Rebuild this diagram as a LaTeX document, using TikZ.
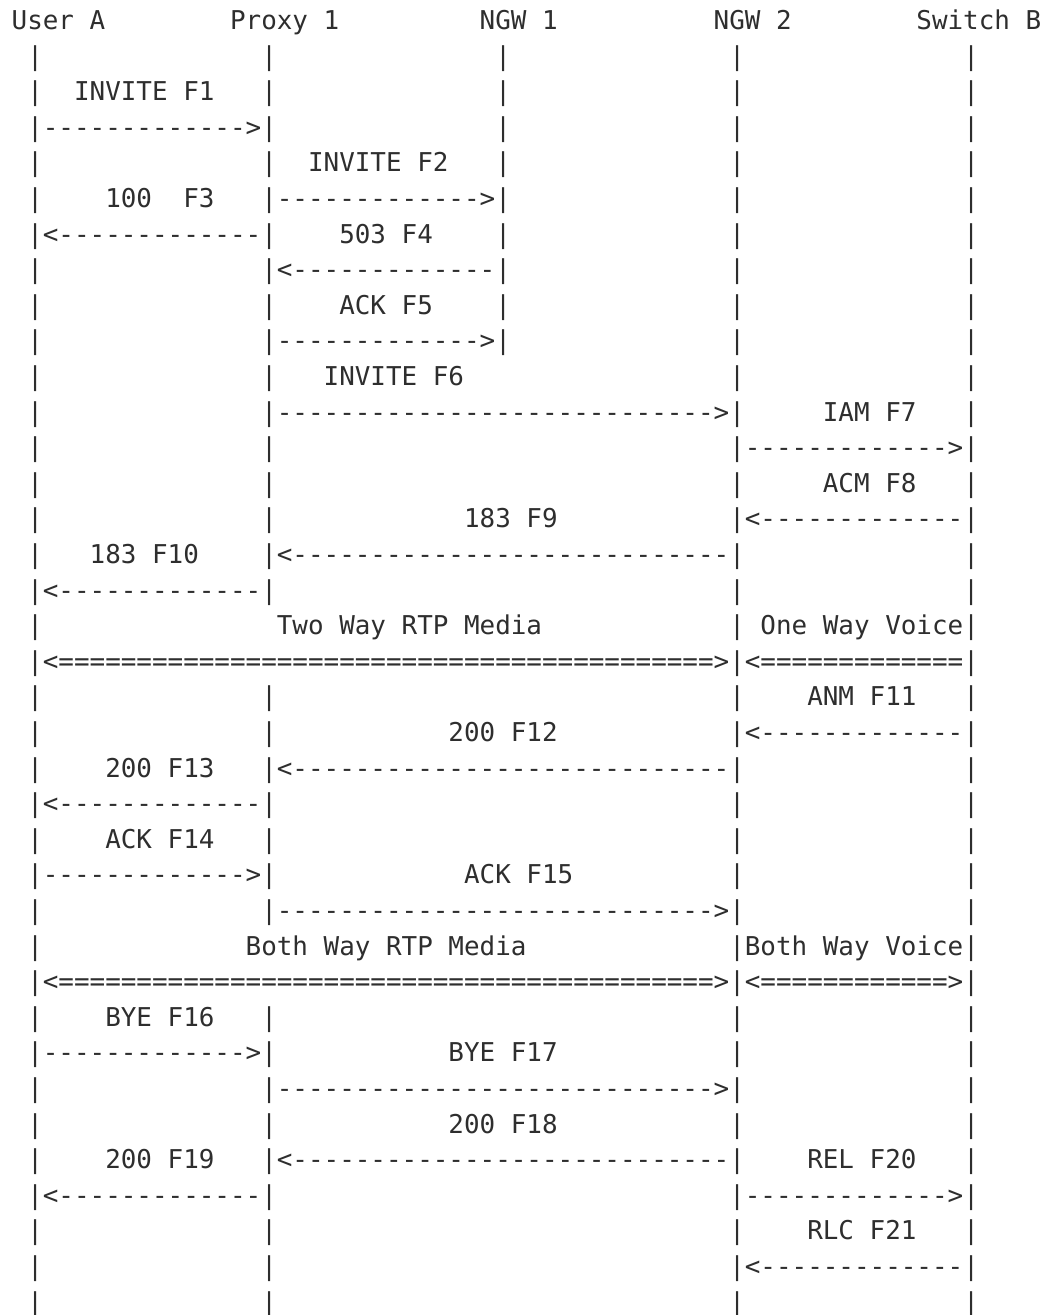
\documentclass[tikz,border=0pt]{standalone}
\usepackage{fontspec}
\setmonofont{DejaVu Sans Mono}
\usepackage{tikz}
\definecolor{ink}{HTML}{2E2E2E}
% n copies of one character
\newcommand{\repchar}[2]{\foreach \k in {1,...,#1}{#2}}

\begin{document}
\begin{tikzpicture}[
    x=7.826pt, y=-17.86pt,
    ascii/.style={anchor=base west, inner sep=0pt, outer sep=0pt, text=ink, font=\ttfamily\fontsize{13pt}{16pt}\selectfont}
]
\useasboundingbox[fill=white] (-0.75,0.171) rectangle (66.18,37.11);

% entities
\node[ascii] (usera) at (0,1) {User A};
\node[ascii] (proxy) at (14,1) {Proxy 1};
\node[ascii] (ngw1) at (30,1) {NGW 1};
\node[ascii] (ngw2) at (45,1) {NGW 2};
\node[ascii] (switchb) at (58,1) {Switch B};

% lifelines
\foreach \r in {2,...,37} {
    \node[ascii] (la-\r) at (1,\r) {|};
    \node[ascii] (ln2-\r) at (46,\r) {|};
    \node[ascii] (lb-\r) at (61,\r) {|};
}
\foreach \a/\b in {2/17,20/26,29/37}
    \foreach \r in {\a,...,\b} \node[ascii] (lp-\r) at (16,\r) {|};
\foreach \r in {2,...,10} \node[ascii] (ln1-\r) at (31,\r) {|};

% message labels
\node[ascii] (f1) at (4,3) {INVITE F1};
\node[ascii] (f2) at (19,5) {INVITE F2};
\node[ascii] (f3) at (6,6) {100~~F3};
\node[ascii] (f4) at (21,7) {503 F4};
\node[ascii] (f5) at (21,9) {ACK F5};
\node[ascii] (f6) at (20,11) {INVITE F6};
\node[ascii] (f7) at (52,12) {IAM F7};
\node[ascii] (f8) at (52,14) {ACM F8};
\node[ascii] (f9) at (29,15) {183 F9};
\node[ascii] (f10) at (5,16) {183 F10};
\node[ascii] (rtp1) at (17,18) {Two Way RTP Media};
\node[ascii] (voice1) at (48,18) {One Way Voice};
\node[ascii] (f11) at (51,20) {ANM F11};
\node[ascii] (f12) at (28,21) {200 F12};
\node[ascii] (f13) at (6,22) {200 F13};
\node[ascii] (f14) at (6,24) {ACK F14};
\node[ascii] (f15) at (29,25) {ACK F15};
\node[ascii] (rtp2) at (15,27) {Both Way RTP Media};
\node[ascii] (voice2) at (47,27) {Both Way Voice};
\node[ascii] (f16) at (6,29) {BYE F16};
\node[ascii] (f17) at (28,30) {BYE F17};
\node[ascii] (f18) at (28,32) {200 F18};
\node[ascii] (f19) at (6,33) {200 F19};
\node[ascii] (f20) at (51,33) {REL F20};
\node[ascii] (f21) at (51,35) {RLC F21};

% message arrows
\node[ascii] (m1) at (2,4) {\repchar{13}{-}>};
\node[ascii] (m2) at (17,6) {\repchar{13}{-}>};
\node[ascii] (m3) at (2,7) {<\repchar{13}{-}};
\node[ascii] (m4) at (17,8) {<\repchar{13}{-}};
\node[ascii] (m5) at (17,10) {\repchar{13}{-}>};
\node[ascii] (m6) at (17,12) {\repchar{28}{-}>};
\node[ascii] (m7) at (47,13) {\repchar{13}{-}>};
\node[ascii] (m8) at (47,15) {<\repchar{13}{-}};
\node[ascii] (m9) at (17,16) {<\repchar{28}{-}};
\node[ascii] (m10) at (2,17) {<\repchar{13}{-}};
\node[ascii] (media1) at (2,19) {<\repchar{42}{=}>};
\node[ascii] (voicem1) at (47,19) {<\repchar{13}{=}};
\node[ascii] (m11) at (47,21) {<\repchar{13}{-}};
\node[ascii] (m12) at (17,22) {<\repchar{28}{-}};
\node[ascii] (m13) at (2,23) {<\repchar{13}{-}};
\node[ascii] (m14) at (2,25) {\repchar{13}{-}>};
\node[ascii] (m15) at (17,26) {\repchar{28}{-}>};
\node[ascii] (media2) at (2,28) {<\repchar{42}{=}>};
\node[ascii] (voicem2) at (47,28) {<\repchar{12}{=}>};
\node[ascii] (m16) at (2,30) {\repchar{13}{-}>};
\node[ascii] (m17) at (17,31) {\repchar{28}{-}>};
\node[ascii] (m18) at (17,33) {<\repchar{28}{-}};
\node[ascii] (m19) at (2,34) {<\repchar{13}{-}};
\node[ascii] (m20) at (47,34) {\repchar{13}{-}>};
\node[ascii] (m21) at (47,36) {<\repchar{13}{-}};
\end{tikzpicture}
\end{document}
